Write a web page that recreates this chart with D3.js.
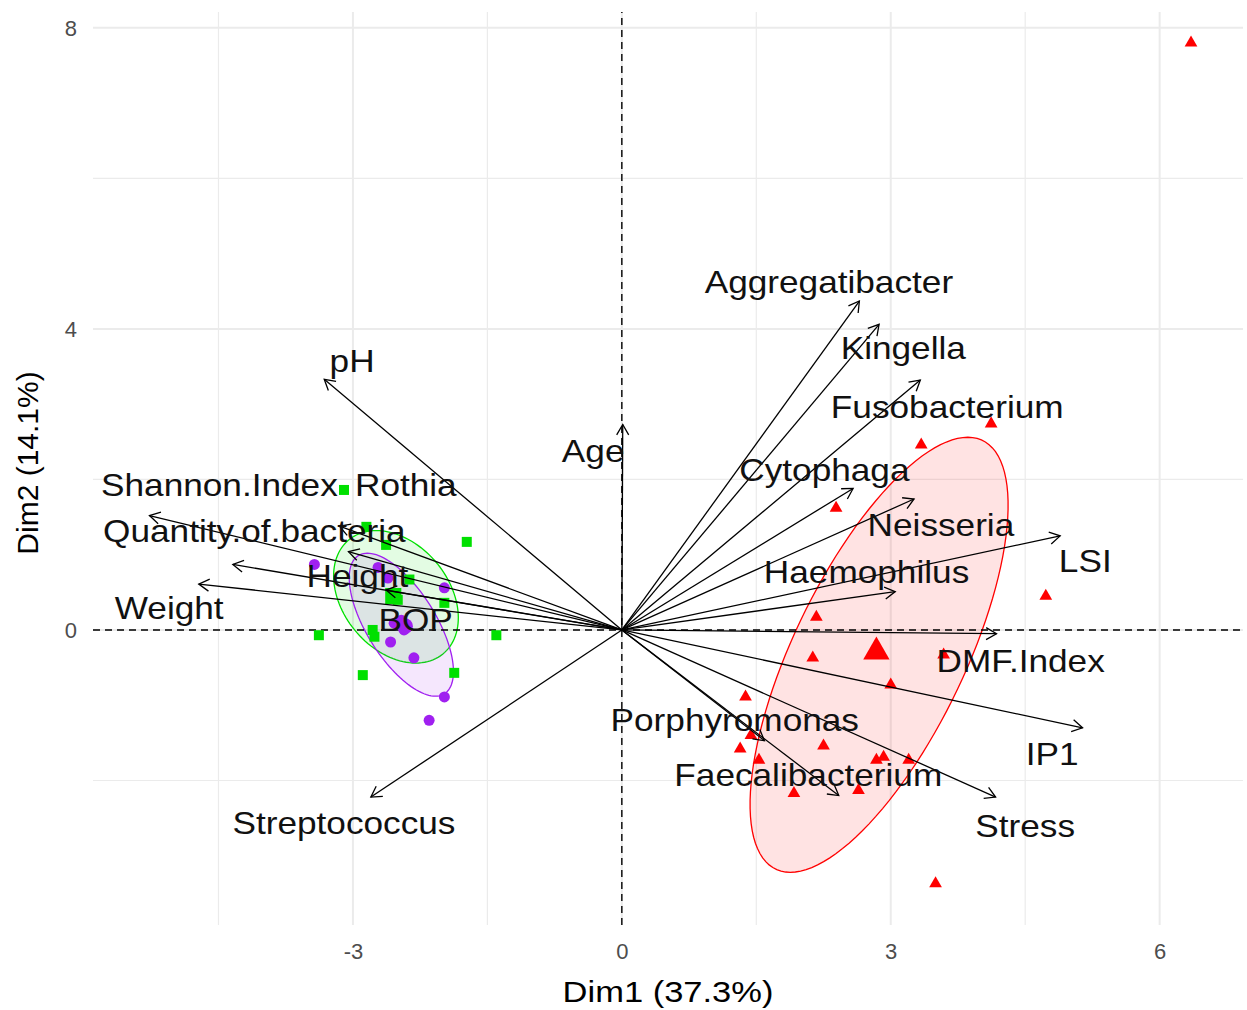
<!DOCTYPE html>
<html><head><meta charset="utf-8">
<script src="https://cdn.jsdelivr.net/npm/d3@7"></script>
<style>body{margin:0;background:#fff}svg{display:block}</style>
</head><body><svg id="c" width="1247" height="1010"></svg>
<script>
// ---- data ----
const xTicks = [-3, 0, 3, 6];
const yTicks = [0, 4, 8];
const xMinor = [-4.5, -1.5, 1.5, 4.5];
const yMinor = [-2, 2, 6];
const xTitle = "Dim1 (37.3%)";
const yTitle = "Dim2 (14.1%)";

const varNames = ["Aggregatibacter","Kingella","Fusobacterium","Cytophaga","Neisseria","LSI","Haemophilus","DMF.Index","IP1","Stress","Faecalibacterium","Porphyromonas","Streptococcus","Age","pH","Shannon.Index","Rothia","Quantity.of.bacteria","Weight","Height","BOP"];
const varX = [2.65, 2.87, 3.33, 2.58, 3.26, 4.89, 3.05, 4.18, 5.14, 4.17, 2.42, 1.59, -2.80, 0.01, -3.32, -5.27, -3.15, -4.34, -4.72, -3.05, -2.63];
const varY = [4.37, 4.06, 3.32, 1.88, 1.74, 1.25, 0.51, -0.05, -1.30, -2.22, -2.20, -1.47, -2.22, 2.73, 3.33, 1.52, 1.38, 0.87, 0.61, 1.04, 0.53];
const labelX = [2.31, 3.14, 3.63, 2.26, 3.56, 5.17, 2.73, 4.45, 4.80, 4.50, 2.08, 1.26, -3.10, -0.32, -3.01, -4.49, -2.41, -4.10, -5.05, -2.95, -2.30];
const labelY = [4.62, 3.74, 2.96, 2.13, 1.40, 0.91, 0.77, -0.41, -1.65, -2.60, -1.93, -1.20, -2.57, 2.38, 3.57, 1.92, 1.92, 1.32, 0.29, 0.71, 0.13];

const greenX = [-3.10, -1.73, -2.85, -2.63, -2.37, -1.98, -2.78, -3.38, -1.40, -2.89, -1.87, -2.76, -2.50];
const greenY = [1.86, 1.17, 1.37, 1.13, 0.67, 0.36, 0.00, -0.07, -0.07, -0.60, -0.57, -0.09, 0.40];
const purpleX = [-3.43, -2.72, -2.61, -1.98, -2.54, -2.43, -2.58, -2.32, -1.98, -2.15, -2.46];
const purpleY = [0.87, 0.83, 0.69, 0.56, 0.09, 0.00, -0.16, -0.37, -0.89, -1.20, 0.13];
const redX = [6.35, 4.12, 3.34, 2.39, 4.73, 2.17, 2.13, 3.59, 3.00, 1.38, 1.44, 1.32, 1.53, 2.25, 2.92, 2.84, 3.20, 1.92, 2.64, 3.50];
const redY = [7.80, 2.74, 2.46, 1.62, 0.45, 0.17, -0.37, -0.33, -0.73, -0.89, -1.40, -1.58, -1.73, -1.54, -1.69, -1.73, -1.73, -2.17, -2.13, -3.37];

const groupNames = ["green", "purple", "red"];
const groupColors = ["#00e000", "#a020f0", "#ff0000"];
const meanX = [-2.55, -2.42, 2.84];
const meanY = [0.45, 0.05, -0.29];
// ellipse: centre + two conjugate semi-axis vectors (data units)
const ellCX = [-2.52, -2.46, 2.87];
const ellCY = [0.44, 0.07, -0.33];
const ellPX = [-0.22, -0.38, 0.99];
const ellPY = [0.88, 0.95, 2.89];
const ellQX = [0.66, 0.44, 1.045];

// ---- layout ----
const svg = d3.select("#c");
const x = d3.scaleLinear().domain([-5.9, 6.93]).range([93, 1243]);
const y = d3.scaleLinear().domain([-3.92, 8.21]).range([925, 12]);
const font = "'Liberation Sans', Arial, sans-serif";

// grid
const g = svg.append("g");
g.selectAll(".vmin").data(xMinor).join("line").attr("x1", d=>x(d)).attr("x2", d=>x(d)).attr("y1", y.range()[0]).attr("y2", y.range()[1]).attr("stroke", "#ebebeb").attr("stroke-width", 1.2);
g.selectAll(".hmin").data(yMinor).join("line").attr("y1", d=>y(d)).attr("y2", d=>y(d)).attr("x1", x.range()[0]).attr("x2", x.range()[1]).attr("stroke", "#ebebeb").attr("stroke-width", 1.2);
g.selectAll(".vmaj").data(xTicks).join("line").attr("x1", d=>x(d)).attr("x2", d=>x(d)).attr("y1", y.range()[0]).attr("y2", y.range()[1]).attr("stroke", "#ebebeb").attr("stroke-width", 2);
g.selectAll(".hmaj").data(yTicks).join("line").attr("y1", d=>y(d)).attr("y2", d=>y(d)).attr("x1", x.range()[0]).attr("x2", x.range()[1]).attr("stroke", "#ebebeb").attr("stroke-width", 2);

// axes text
const fmt = d => String(d);
const xAxis = d3.axisBottom(x).tickValues(xTicks).tickSize(0).tickPadding(0).tickFormat(fmt);
const xa = svg.append("g").attr("transform", "translate(0,944)").call(xAxis);
xa.select(".domain").remove();
xa.selectAll("text").attr("font-family", font).attr("font-size", 22).attr("fill", "#4d4d4d").attr("dy", "0.7em");
const yAxis = d3.axisLeft(y).tickValues(yTicks).tickSize(0).tickPadding(0).tickFormat(fmt);
const ya = svg.append("g").attr("transform", "translate(77,0)").call(yAxis);
ya.select(".domain").remove();
ya.selectAll("text").attr("font-family", font).attr("font-size", 22).attr("fill", "#4d4d4d").attr("dy", "0.35em");

svg.append("text").attr("transform", "translate(668,1002) scale(1.15,1)").attr("text-anchor", "middle").attr("font-family", font).attr("font-size", 30).attr("fill", "#000").text(xTitle);
svg.append("text").attr("transform", "translate(38,463) rotate(-90)").attr("text-anchor", "middle").attr("font-family", font).attr("font-size", 30).attr("fill", "#000").text(yTitle);

// ellipses
const ellG = svg.append("g");
groupNames.forEach((nm, i) => {
  const pts = d3.range(0, 361, 3).map(a => {
    const t = a * Math.PI / 180;
    return [x(ellCX[i] + ellPX[i] * Math.cos(t) + ellQX[i] * Math.sin(t)), y(ellCY[i] + ellPY[i] * Math.cos(t))];
  });
  ellG.append("path").attr("d", d3.line()(pts) + "Z").attr("fill", groupColors[i]).attr("fill-opacity", 0.11).attr("stroke", groupColors[i]).attr("stroke-width", 1.3);
});

// dashed zero lines
svg.append("line").attr("x1", x.range()[0]).attr("x2", x.range()[1]).attr("y1", y(0)).attr("y2", y(0)).attr("stroke", "#000").attr("stroke-width", 1.4).attr("stroke-dasharray", "7,5");
svg.append("line").attr("x1", x(0)).attr("x2", x(0)).attr("y1", y.range()[0]).attr("y2", y.range()[1]).attr("stroke", "#000").attr("stroke-width", 1.4).attr("stroke-dasharray", "7,5");

// points
const pg = svg.append("g");
const gd = d3.zip(greenX, greenY);
pg.selectAll(".gs").data(gd).join("path").attr("d", d3.symbol(d3.symbolSquare, 100)()).attr("transform", d=>`translate(${x(d[0])},${y(d[1])})`).attr("fill", groupColors[0]);
const pd = d3.zip(purpleX, purpleY);
pg.selectAll(".pc").data(pd).join("circle").attr("cx", d=>x(d[0])).attr("cy", d=>y(d[1])).attr("r", 5.5).attr("fill", groupColors[1]);
const rd = d3.zip(redX, redY);
pg.selectAll(".rt").data(rd).join("path").attr("d", d3.symbol(d3.symbolTriangle, 70)()).attr("transform", d=>`translate(${x(d[0])},${y(d[1])})`).attr("fill", groupColors[2]);
// group means
pg.append("path").attr("d", d3.symbol(d3.symbolSquare, 260)()).attr("transform", `translate(${x(meanX[0])},${y(meanY[0])})`).attr("fill", groupColors[0]);
pg.append("circle").attr("cx", x(meanX[1])).attr("cy", y(meanY[1])).attr("r", 8).attr("fill", groupColors[1]);
pg.append("path").attr("d", d3.symbol(d3.symbolTriangle, 300)()).attr("transform", `translate(${x(meanX[2])},${y(meanY[2])})`).attr("fill", groupColors[2]);

// arrows
const ag = svg.append("g").attr("stroke", "#000").attr("stroke-width", 1.3).attr("fill", "none");
varNames.forEach((nm, i) => {
  const x0 = x(0), y0 = y(0), x1 = x(varX[i]), y1 = y(varY[i]);
  ag.append("line").attr("x1", x0).attr("y1", y0).attr("x2", x1).attr("y2", y1);
  const ang = Math.atan2(y1 - y0, x1 - x0);
  const L = 12, a = Math.PI / 6;
  const p1 = [x1 - L * Math.cos(ang - a), y1 - L * Math.sin(ang - a)];
  const p2 = [x1 - L * Math.cos(ang + a), y1 - L * Math.sin(ang + a)];
  ag.append("path").attr("d", `M${p1[0]},${p1[1]}L${x1},${y1}L${p2[0]},${p2[1]}`);
});

// labels
svg.append("g").selectAll("text").data(varNames).join("text")
  .attr("transform", (d, i) => `translate(${x(labelX[i])},${y(labelY[i])}) scale(1.1,1)`)
  .attr("text-anchor", "middle").attr("dominant-baseline", "central")
  .attr("font-family", font).attr("font-size", 32).attr("fill", "#111")
  .text(d => d);
</script></body></html>
